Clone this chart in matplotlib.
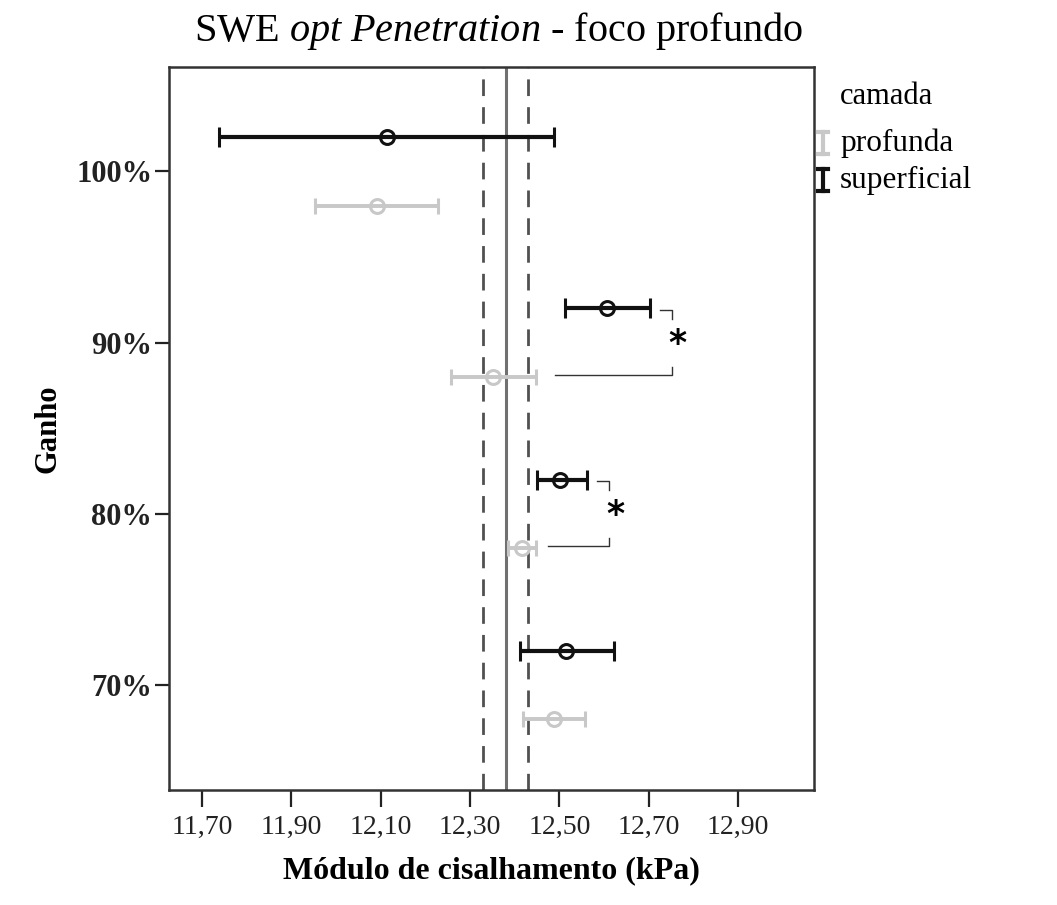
import numpy as np
import matplotlib
matplotlib.use('Agg')
import matplotlib.pyplot as plt
from matplotlib.lines import Line2D

plt.rcParams['font.family'] = ['Liberation Serif', 'DejaVu Serif']
plt.rcParams['mathtext.fontset'] = 'custom'
plt.rcParams['mathtext.rm'] = 'Liberation Serif'
plt.rcParams['mathtext.it'] = 'Liberation Serif:italic'

# data
ganho = [100, 90, 80, 70]
ganho_labels = ['100%', '90%', '80%', '70%']
sup_mean = [12.114, 12.606, 12.502, 12.515]
sup_low = [11.738, 12.513, 12.450, 12.411]
sup_high = [12.489, 12.702, 12.562, 12.623]
prof_mean = [12.091, 12.351, 12.417, 12.488]
prof_low = [11.953, 12.258, 12.386, 12.418]
prof_high = [12.228, 12.448, 12.448, 12.558]
ref_mean = 12.38
ref_ci = [12.33, 12.43]
xticks = [11.70, 11.90, 12.10, 12.30, 12.50, 12.70, 12.90]
# significance brackets: (ganho, x of upper end, x of lower start)
sig = [(90, 12.752, 12.726, 12.491), (80, 12.612, 12.585, 12.474)]

off = 2.0
black = '#111111'
grey = '#c8c8c8'

fig = plt.figure(figsize=(10.57, 9.05), dpi=100)
ax = fig.add_axes([169/1057, 1-790/905, 645/1057, 723/905])

ax.axvline(ref_mean, color='#707070', lw=2.2, zorder=1)
for v in ref_ci:
    ax.axvline(v, color='#505050', lw=2.0, ls=(0, (6, 4)), zorder=1)

y = np.array(ganho, dtype=float)
sm, pm = np.array(sup_mean), np.array(prof_mean)
ax.errorbar(sm, y + off, xerr=[sm - np.array(sup_low), np.array(sup_high) - sm],
            fmt='o', color=black, mfc='none', mec=black, ms=10, mew=2.2,
            elinewidth=3.0, capsize=7, capthick=3.0, zorder=3)
ax.errorbar(pm, y - off, xerr=[pm - np.array(prof_low), np.array(prof_high) - pm],
            fmt='o', color=grey, mfc='none', mec=grey, ms=10, mew=2.2,
            elinewidth=2.8, capsize=6, capthick=2.8, zorder=2)

for g, xr, xt, xb in sig:
    yt, yb = g + off - 0.1, g - off + 0.1
    ax.plot([xt, xr, xr], [yt, yt, yt - 0.5], color='#333333', lw=1.0)
    ax.plot([xb, xr, xr], [yb, yb, yb + 0.5], color='#333333', lw=1.0)
    ax.text(xr + 0.013, g - 0.1, '*', fontsize=25, ha='center', va='center',
            family='DejaVu Sans', fontweight='bold')

ax.set_xlim(11.626, 13.07)
ax.set_ylim(63.86, 106.1)
ax.set_xticks(xticks)
ax.set_xticklabels([f'{v:.2f}'.replace('.', ',') for v in xticks], fontsize=20)
ax.set_yticks(ganho)
ax.set_yticklabels(ganho_labels, fontsize=22, fontweight='bold')
ax.tick_params(axis='x', length=12, width=1.6, pad=6, colors='#222222')
ax.tick_params(axis='y', length=10, width=1.6, pad=2, colors='#222222')
for s in ax.spines.values():
    s.set_linewidth(1.8)
    s.set_color('#333333')

ax.set_xlabel('Módulo de cisalhamento (kPa)', fontsize=23, fontweight='bold', labelpad=12)
ax.set_ylabel('Ganho', fontsize=22, fontweight='bold', labelpad=10)

fig.text(499/1057, 1-31/905, r'SWE $\mathit{opt\ Penetration}$ - foco profundo',
         fontsize=29, ha='center', va='center')

# legend
fig.text(840/1057, 1-97/905, 'camada', fontsize=22, ha='left', va='center')
for lab, col, yc in [('profunda', grey, 143), ('superficial', black, 180)]:
    fig.text(840/1057, 1-yc/905, lab, fontsize=22.5, ha='left', va='center')
    x0, x1 = 818/1057, 828/1057
    xm = (x0 + x1) / 2
    ya, yb2 = 1-(yc-11)/905, 1-(yc+11)/905
    fig.add_artist(Line2D([xm, xm], [ya, yb2], color=col, lw=3))
    fig.add_artist(Line2D([x0, x1], [ya, ya], color=col, lw=3))
    fig.add_artist(Line2D([x0, x1], [yb2, yb2], color=col, lw=3))

fig.savefig('out.png', dpi=100)
